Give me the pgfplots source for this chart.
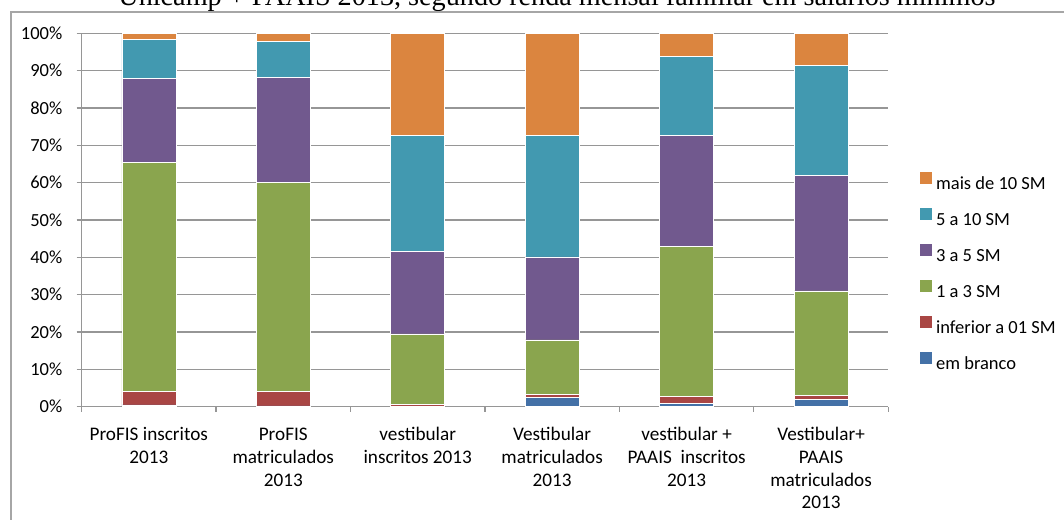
\documentclass[border=0pt]{standalone}
\usepackage{fontspec}
\setmainfont{Carlito}
\newfontfamily\titlefont{Liberation Serif}
\usepackage{pgfplots}
\usepackage{pgfplotstable}
\pgfplotsset{compat=1.18}

\definecolor{cblank}{HTML}{4471A7}
\definecolor{cinf}{HTML}{A94644}
\definecolor{c13}{HTML}{8AA54E}
\definecolor{c35}{HTML}{71598E}
\definecolor{c510}{HTML}{4299B0}
\definecolor{cmais}{HTML}{DB853F}
\definecolor{gridgray}{HTML}{969696}
\definecolor{framegray}{HTML}{A6A6A6}

% percentages, bottom segment first
\pgfplotstableread{
cat blank inf a13 a35 a510 mais
0   0.5   3.6  61.3 22.5 10.4  1.7
1   0.2   3.9  56.0 28.1  9.6  2.2
2   0.1   0.5  18.9 22.1 31.0 27.4
3   2.5   0.7  14.7 22.2 32.5 27.4
4   0.9   1.9  40.1 29.7 21.3  6.1
5   2.0   1.1  27.9 31.0 29.3  8.7
}\rendadata

\newcommand{\cl}[1]{{\fontsize{9.6}{11.35}\selectfont\begin{tabular}{@{}c@{}}#1\end{tabular}}}
\newcommand{\lblfont}{\fontsize{9.25}{11.35}\selectfont}

\begin{document}
\begin{tikzpicture}
\useasboundingbox (0pt,0pt) rectangle (532pt,259.5pt);
\clip (0pt,0pt) rectangle (532pt,259.5pt);
\node[anchor=base,font=\titlefont\fontsize{14.1}{16}\selectfont] at (278.5pt,256.5pt)
  {Unicamp + PAAIS 2013, segundo renda mensal familiar em salários mínimos};
\draw[framegray,line width=0.75pt] (5.5pt,-3pt) -- (5.5pt,253.5pt) -- (540pt,253.5pt);
\begin{axis}[
    at={(40.8pt,56.15pt)},anchor=south west,
    scale only axis,width=403.35pt,height=186.7pt,
    ybar stacked,bar width=27pt,
    xmin=-0.5,xmax=5.5,ymin=0,ymax=100,
    axis x line*=bottom,axis y line*=left,
    axis line style={gridgray,line width=0.6pt},
    every tick/.style={gridgray,line width=0.6pt},
    tick align=outside,major tick length=2.5pt,
    xtick={-0.5,0.5,...,5.5},xticklabels={},
    extra x ticks={0,1,2,3,4,5},
    extra x tick style={major tick length=0pt,
        xticklabel style={anchor=north,yshift=-5.5pt}},
    extra x tick labels={
        {\cl{ProFIS inscritos\\2013}},
        {\cl{ProFIS\\matriculados\\2013}},
        {\cl{vestibular\\inscritos 2013}},
        {\cl{Vestibular\\matriculados\\2013}},
        {\cl{vestibular +\\PAAIS\ \ inscritos\\2013}},
        {\cl{Vestibular+\\PAAIS\\matriculados\\2013}}},
    ytick={0,10,...,100},
    yticklabel={\pgfmathprintnumber{\tick}\%},
    yticklabel style={xshift=-3.6pt},
    tick label style={font=\lblfont,/pgf/number format/assume math mode=true},
    ymajorgrids,
    grid style={gridgray,line width=0.6pt},
    every axis plot/.append style={draw=white,line width=0.3pt},
    reverse legend,
    legend cell align=left,
    legend style={at={(rel axis cs:1.031,0.640)},anchor=north west,
        draw=none,fill=none,font=\lblfont,
        row sep=7.6pt,column sep=2pt,
        nodes={inner sep=0pt,text height=6.5pt,text depth=1.5pt}},
    legend image code/.code={\path[#1,draw=none] (0pt,0.3pt) rectangle (6.2pt,6.4pt);},
]
\addplot[fill=cblank] table[x=cat,y=blank] {\rendadata};
\addplot[fill=cinf] table[x=cat,y=inf] {\rendadata};
\addplot[fill=c13] table[x=cat,y=a13] {\rendadata};
\addplot[fill=c35] table[x=cat,y=a35] {\rendadata};
\addplot[fill=c510] table[x=cat,y=a510] {\rendadata};
\addplot[fill=cmais] table[x=cat,y=mais] {\rendadata};
\legend{em branco,inferior a 01 SM,1 a 3 SM,3 a 5 SM,5 a 10 SM,mais de 10 SM}
\end{axis}
\end{tikzpicture}
\end{document}
